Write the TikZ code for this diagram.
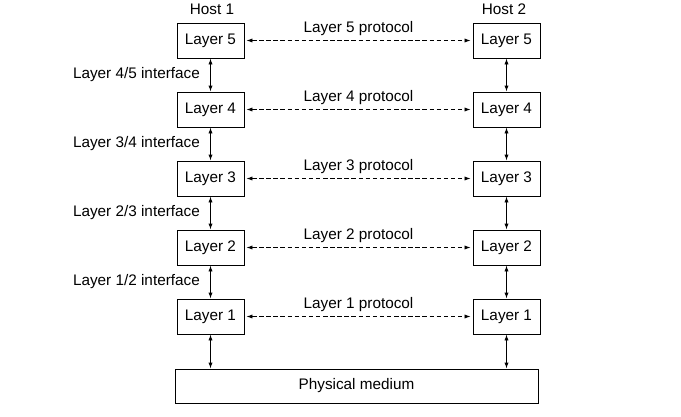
\documentclass[tikz,border=0pt]{standalone}
\usepackage{fontspec}
\setmainfont{Liberation Sans}
\usetikzlibrary{arrows.meta}
\begin{document}
\begin{tikzpicture}[x=1pt,y=-1pt,
  every node/.style={font=\fontsize{15.3}{17}\selectfont, inner sep=0pt},
  layerbox/.style={draw, line width=0.9pt, minimum width=67pt, minimum height=35pt},
  vlink/.style={{Latex[length=6pt,width=4.2pt]}-{Latex[length=6pt,width=4.2pt]}, line width=0.9pt},
  plink/.style={{Latex[length=6pt,width=4.2pt]}-{Latex[length=6pt,width=4.2pt]}, line width=0.8pt, dash pattern=on 4.5pt off 2.6pt}]
\useasboundingbox (0,0) rectangle (681,416);

\node (h1) at (212,9) {Host 1};
\node (h2) at (504,9) {Host 2};

\foreach \n/\y in {5/40.5,4/109.5,3/178.5,2/247.5,1/316.5}{
  \node[layerbox] (a\n) at (210.5,\y) {Layer \n};
  \node[layerbox] (b\n) at (506.5,\y) {Layer \n};
  \draw[plink] ([xshift=2pt]a\n.east) -- ([xshift=-2pt]b\n.west)
    node[midway, above=4.5pt] (p\n) {Layer \n\ protocol};
}

\node[draw, line width=0.9pt, minimum width=363pt, minimum height=34pt] (med) at (356.5,386) {Physical medium};

\foreach \u/\l/\y in {5/4/75,4/3/144,3/2/213,2/1/282}{
  \draw[vlink] (a\u) -- (a\l);
  \draw[vlink] (b\u) -- (b\l);
  \node[anchor=east] (i\l) at (200,\y) {Layer \l/\u\ interface};
}
\draw[vlink] (a1) -- (a1 |- med.north);
\draw[vlink] (b1) -- (b1 |- med.north);
\end{tikzpicture}
\end{document}
